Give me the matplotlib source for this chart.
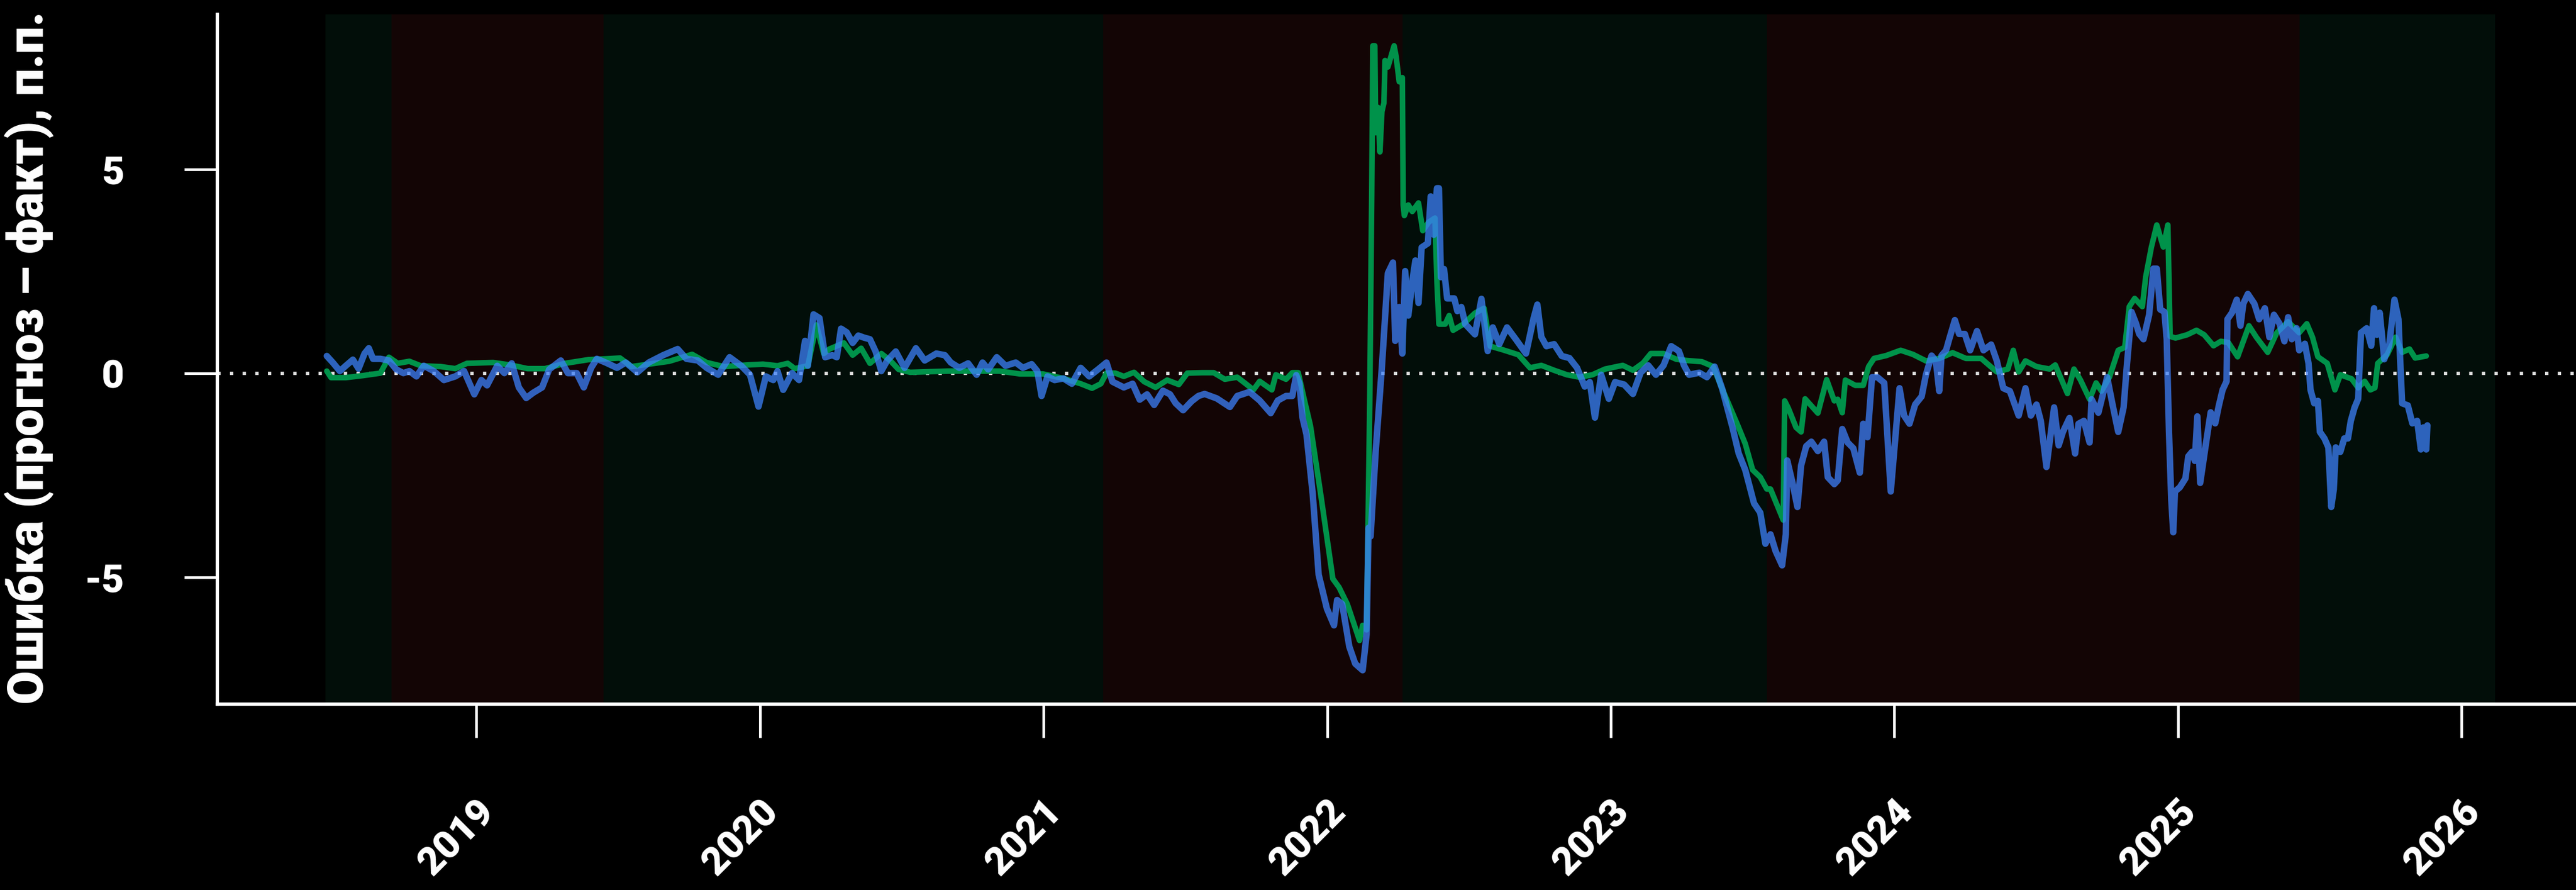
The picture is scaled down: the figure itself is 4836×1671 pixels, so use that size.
import numpy as np
import pandas as pd
import matplotlib
matplotlib.use("Agg")
import matplotlib.pyplot as plt

# ---------------------------------------------------------------
# Forecast error series (forecast minus actual), percentage points.
# Time is given in decimal years.
# ---------------------------------------------------------------
blue_t = [
    2018.473, 2018.494, 2018.519, 2018.540, 2018.565, 2018.585, 2018.606, 2018.621, 2018.636, 2018.662,
    2018.692, 2018.718, 2018.743, 2018.764, 2018.789, 2018.815, 2018.850, 2018.886, 2018.926, 2018.957,
    2018.993, 2019.018, 2019.038, 2019.074, 2019.099, 2019.125, 2019.150, 2019.176, 2019.201, 2019.232,
    2019.257, 2019.298, 2019.323, 2019.354, 2019.379, 2019.405, 2019.425, 2019.456, 2019.496, 2019.527,
    2019.568, 2019.608, 2019.659, 2019.710, 2019.741, 2019.781, 2019.812, 2019.853, 2019.893, 2019.934,
    2019.965, 2019.995, 2020.021, 2020.047, 2020.062, 2020.082, 2020.113, 2020.138, 2020.159, 2020.169,
    2020.189, 2020.210, 2020.230, 2020.255, 2020.271, 2020.286, 2020.306, 2020.327, 2020.347, 2020.367,
    2020.388, 2020.408, 2020.428, 2020.449, 2020.479, 2020.510, 2020.550, 2020.581, 2020.622, 2020.652,
    2020.673, 2020.703, 2020.734, 2020.764, 2020.785, 2020.805, 2020.835, 2020.866, 2020.902, 2020.927,
    2020.958, 2020.978, 2020.993, 2021.014, 2021.039, 2021.070, 2021.100, 2021.131, 2021.161, 2021.192,
    2021.222, 2021.243, 2021.283, 2021.314, 2021.339, 2021.365, 2021.390, 2021.421, 2021.446, 2021.466,
    2021.492, 2021.522, 2021.546, 2021.568, 2021.611, 2021.657, 2021.683, 2021.726, 2021.762, 2021.801,
    2021.826, 2021.855, 2021.877, 2021.891, 2021.902, 2021.913, 2021.927, 2021.949, 2021.970, 2021.999,
    2022.024, 2022.035, 2022.053, 2022.078, 2022.099, 2022.125, 2022.139, 2022.146, 2022.153, 2022.171,
    2022.193, 2022.214, 2022.232, 2022.240, 2022.254, 2022.265, 2022.275, 2022.286, 2022.300, 2022.311,
    2022.322, 2022.333, 2022.355, 2022.365, 2022.376, 2022.387, 2022.394, 2022.401, 2022.412, 2022.423,
    2022.448, 2022.459, 2022.473, 2022.487, 2022.521, 2022.544, 2022.566, 2022.584, 2022.607, 2022.634,
    2022.665, 2022.701, 2022.728, 2022.741, 2022.755, 2022.773, 2022.800, 2022.827, 2022.854, 2022.881,
    2022.908, 2022.926, 2022.944, 2022.966, 2022.993, 2023.015, 2023.047, 2023.078, 2023.105, 2023.132,
    2023.159, 2023.186, 2023.213, 2023.240, 2023.258, 2023.276, 2023.312, 2023.339, 2023.366, 2023.393,
    2023.429, 2023.451, 2023.474, 2023.505, 2023.527, 2023.545, 2023.563, 2023.581, 2023.604, 2023.617,
    2023.622, 2023.640, 2023.658, 2023.671, 2023.689, 2023.707, 2023.730, 2023.752, 2023.765, 2023.788,
    2023.800, 2023.816, 2023.835, 2023.855, 2023.878, 2023.890, 2023.905, 2023.921, 2023.940, 2023.964,
    2023.987, 2024.018, 2024.034, 2024.053, 2024.073, 2024.096, 2024.111, 2024.131, 2024.146, 2024.158,
    2024.166, 2024.182, 2024.193, 2024.213, 2024.228, 2024.248, 2024.267, 2024.291, 2024.314, 2024.341,
    2024.361, 2024.384, 2024.407, 2024.438, 2024.462, 2024.481, 2024.501, 2024.516, 2024.536, 2024.547,
    2024.563, 2024.579, 2024.594, 2024.617, 2024.637, 2024.649, 2024.668, 2024.688, 2024.695, 2024.719,
    2024.750, 2024.769, 2024.789, 2024.808, 2024.820, 2024.836, 2024.851, 2024.863, 2024.878, 2024.898,
    2024.913, 2024.925, 2024.937, 2024.952, 2024.960, 2024.968, 2024.976, 2024.983, 2024.989, 2025.006,
    2025.026, 2025.036, 2025.049, 2025.059, 2025.068, 2025.078, 2025.101, 2025.115, 2025.131, 2025.144,
    2025.157, 2025.171, 2025.174, 2025.190, 2025.207, 2025.220, 2025.230, 2025.246, 2025.269, 2025.286,
    2025.306, 2025.322, 2025.338, 2025.358, 2025.375, 2025.388, 2025.401, 2025.418, 2025.427, 2025.447,
    2025.460, 2025.467, 2025.480, 2025.493, 2025.500, 2025.516, 2025.530, 2025.540, 2025.549, 2025.556,
    2025.572, 2025.586, 2025.599, 2025.609, 2025.622, 2025.635, 2025.645, 2025.665, 2025.681, 2025.691,
    2025.701, 2025.711, 2025.727, 2025.744, 2025.763, 2025.777, 2025.783, 2025.790, 2025.810, 2025.826,
    2025.843, 2025.856, 2025.865, 2025.875, 2025.879,
]
blue_v = [
    0.43, 0.27, 0.06, 0.19, 0.34, 0.12, 0.49, 0.62, 0.36, 0.36,
    0.32, 0.10, 0.01, 0.06, -0.07, 0.19, 0.06, -0.16, -0.07, 0.06,
    -0.51, -0.16, -0.29, 0.19, 0.01, 0.25, -0.34, -0.60, -0.47, -0.34,
    0.10, 0.32, 0.01, 0.01, -0.34, 0.14, 0.36, 0.27, 0.14, 0.27,
    0.03, 0.27, 0.45, 0.60, 0.36, 0.32, 0.14, -0.03, 0.40, 0.19,
    -0.03, -0.81, -0.07, -0.16, 0.06, -0.40, 0.01, -0.16, 0.80, 0.19,
    1.45, 1.36, 0.40, 0.45, 0.40, 1.10, 1.01, 0.75, 0.93, 0.88,
    0.84, 0.54, 0.06, 0.32, 0.54, 0.14, 0.62, 0.32, 0.49, 0.45,
    0.27, 0.14, 0.25, -0.03, 0.27, 0.10, 0.40, 0.19, 0.27, 0.14,
    0.23, 0.06, -0.55, -0.07, -0.16, -0.12, -0.25, 0.14, -0.07, 0.10,
    0.27, -0.20, -0.34, -0.25, -0.64, -0.51, -0.77, -0.42, -0.51, -0.73,
    -0.90, -0.68, -0.55, -0.50, -0.61, -0.82, -0.55, -0.45, -0.66, -0.97,
    -0.66, -0.55, -0.55, -0.04, -0.24, -1.08, -1.49, -2.95, -4.93, -5.76,
    -6.17, -5.55, -5.65, -6.69, -7.11, -7.27, -6.39, -3.78, -3.99, -1.91,
    0.17, 2.46, 2.72, 0.80, 1.63, 0.49, 2.51, 1.42, 2.25, 2.77,
    1.73, 3.09, 3.19, 4.34, 3.40, 4.54, 4.54, 2.36, 2.56, 1.84,
    1.84, 1.53, 1.63, 1.21, 0.96, 1.83, 0.55, 1.13, 0.72, 1.13,
    0.84, 0.49, 1.36, 1.69, 0.90, 0.67, 0.72, 0.43, 0.38, 0.14,
    -0.32, -0.21, -1.08, -0.03, -0.62, -0.21, -0.27, -0.50, 0.02, 0.20,
    -0.03, 0.20, 0.67, 0.55, 0.20, -0.03, 0.02, -0.09, 0.17, -0.38,
    -1.32, -1.96, -2.36, -3.18, -3.41, -4.17, -3.94, -4.35, -4.70, -3.94,
    -2.13, -2.66, -3.27, -2.25, -1.78, -1.67, -1.90, -1.67, -2.54, -2.71,
    -2.62, -1.36, -1.69, -1.83, -2.43, -1.23, -1.56, -0.09, -0.09, -0.23,
    -2.89, -0.36, -1.03, -1.23, -0.76, -0.56, -0.03, 0.44, 0.31, -0.43,
    0.44, 0.57, 0.84, 1.31, 0.97, 0.97, 0.57, 1.04, 0.57, 0.71,
    0.31, -0.36, -0.43, -1.03, -0.36, -1.03, -0.76, -1.16, -2.29, -1.69,
    -0.83, -1.76, -1.43, -1.09, -1.96, -1.23, -1.16, -1.69, -0.63, -0.96,
    -0.09, -0.76, -1.43, -0.83, 0.24, 1.51, 1.24, 0.97, 0.84, 1.44,
    2.57, 2.57, 1.57, 1.51, 0.84, -1.43, -3.09, -3.89, -2.89, -2.79,
    -2.57, -2.03, -1.92, -2.14, -1.05, -2.68, -1.59, -0.95, -1.22, -0.78,
    -0.40, -0.19, 1.33, 1.49, 1.81, 1.17, 1.71, 1.95, 1.71, 1.33,
    1.60, 0.89, 1.44, 1.22, 0.79, 1.38, 0.84, 1.11, 0.57, 0.73,
    0.25, -0.40, -0.73, -0.67, -1.43, -1.59, -1.81, -3.27, -2.84, -1.81,
    -1.92, -1.59, -1.59, -1.16, -0.84, -0.62, 1.00, 1.11, 0.68, 1.60,
    0.95, 1.49, 0.35, 0.68, 1.81, 1.33, 0.35, -0.73, -0.78, -1.22,
    -1.16, -1.86, -1.32, -1.86, -1.27,
]

green_t = [
    2018.473, 2018.488, 2018.540, 2018.601, 2018.662, 2018.692, 2018.723, 2018.764, 2018.804, 2018.875,
    2018.926, 2018.967, 2019.059, 2019.120, 2019.181, 2019.242, 2019.313, 2019.395, 2019.456, 2019.507,
    2019.547, 2019.608, 2019.680, 2019.761, 2019.812, 2019.873, 2019.955, 2020.011, 2020.062, 2020.098,
    2020.123, 2020.169, 2020.199, 2020.225, 2020.245, 2020.276, 2020.296, 2020.327, 2020.357, 2020.388,
    2020.428, 2020.459, 2020.489, 2020.530, 2020.662, 2020.764, 2020.845, 2020.917, 2020.998, 2021.070,
    2021.131, 2021.171, 2021.202, 2021.222, 2021.253, 2021.283, 2021.319, 2021.355, 2021.395, 2021.436,
    2021.477, 2021.507, 2021.560, 2021.600, 2021.639, 2021.683, 2021.711, 2021.740, 2021.762, 2021.805,
    2021.819, 2021.855, 2021.877, 2021.898, 2021.920, 2021.941, 2021.977, 2022.020, 2022.042, 2022.071,
    2022.114, 2022.125, 2022.139, 2022.150, 2022.157, 2022.161, 2022.168, 2022.171, 2022.179, 2022.186,
    2022.193, 2022.200, 2022.204, 2022.214, 2022.225, 2022.236, 2022.243, 2022.254, 2022.265, 2022.268,
    2022.272, 2022.286, 2022.300, 2022.322, 2022.337, 2022.358, 2022.380, 2022.387, 2022.394, 2022.416,
    2022.430, 2022.444, 2022.480, 2022.521, 2022.553, 2022.575, 2022.620, 2022.674, 2022.715, 2022.755,
    2022.800, 2022.845, 2022.890, 2022.935, 2022.980, 2023.042, 2023.078, 2023.114, 2023.141, 2023.186,
    2023.231, 2023.267, 2023.321, 2023.361, 2023.393, 2023.447, 2023.474, 2023.500, 2023.527, 2023.550,
    2023.563, 2023.608, 2023.613, 2023.626, 2023.653, 2023.671, 2023.685, 2023.707, 2023.730, 2023.761,
    2023.788, 2023.800, 2023.816, 2023.827, 2023.862, 2023.890, 2023.909, 2023.928, 2023.971, 2024.022,
    2024.065, 2024.111, 2024.158, 2024.205, 2024.252, 2024.306, 2024.361, 2024.400, 2024.419, 2024.438,
    2024.462, 2024.501, 2024.547, 2024.567, 2024.610, 2024.633, 2024.656, 2024.688, 2024.711, 2024.730,
    2024.758, 2024.789, 2024.812, 2024.828, 2024.847, 2024.874, 2024.886, 2024.906, 2024.925, 2024.948,
    2024.964, 2024.972, 2024.991, 2025.032, 2025.065, 2025.092, 2025.125, 2025.151, 2025.177, 2025.210,
    2025.250, 2025.276, 2025.316, 2025.348, 2025.388, 2025.427, 2025.454, 2025.474, 2025.493, 2025.526,
    2025.553, 2025.572, 2025.612, 2025.635, 2025.658, 2025.678, 2025.694, 2025.704, 2025.737, 2025.767,
    2025.790, 2025.816, 2025.836, 2025.875,
]
green_v = [
    0.06, -0.10, -0.10, -0.05, 0.01, 0.40, 0.25, 0.30, 0.19, 0.17,
    0.12, 0.25, 0.27, 0.21, 0.12, 0.12, 0.25, 0.34, 0.36, 0.38,
    0.17, 0.23, 0.30, 0.47, 0.27, 0.17, 0.21, 0.23, 0.19, 0.25,
    0.12, 0.19, 1.19, 0.49, 0.60, 0.69, 0.75, 0.45, 0.62, 0.25,
    0.49, 0.32, 0.10, 0.03, 0.06, 0.06, 0.06, -0.01, -0.01, -0.12,
    -0.25, -0.36, -0.25, 0.01, 0.01, -0.07, 0.03, -0.20, -0.34, -0.16,
    -0.27, 0.01, 0.02, 0.02, -0.14, -0.09, -0.24, -0.40, -0.19, -0.40,
    -0.03, -0.14, 0.02, 0.02, -0.66, -1.28, -2.95, -5.03, -5.24, -5.65,
    -6.54, -6.17, -6.28, -0.76, 4.34, 8.03, 8.03, 5.90, 6.52, 5.43,
    6.42, 6.63, 7.67, 7.51, 7.77, 8.03, 7.77, 7.15, 7.25, 4.13,
    3.87, 4.13, 3.97, 4.18, 3.50, 3.71, 3.81, 2.25, 1.21, 1.21,
    1.42, 1.06, 1.21, 1.48, 1.60, 0.67, 0.58, 0.46, 0.14, 0.20,
    0.08, -0.03, -0.09, -0.03, 0.11, 0.20, 0.08, 0.26, 0.49, 0.49,
    0.35, 0.32, 0.29, 0.17, -0.38, -1.26, -1.72, -2.36, -2.54, -2.83,
    -2.83, -3.59, -0.67, -0.85, -1.32, -1.43, -0.62, -0.79, -0.97, -0.15,
    -0.67, -0.63, -0.96, -0.16, -0.29, -0.29, 0.17, 0.37, 0.44, 0.57,
    0.47, 0.31, 0.37, 0.51, 0.37, 0.37, 0.04, 0.11, 0.57, 0.04,
    0.31, 0.17, 0.11, 0.21, -0.49, 0.11, -0.16, -0.63, -0.23, -0.43,
    -0.09, 0.57, 0.64, 1.64, 1.84, 1.64, 2.37, 3.10, 3.64, 3.10,
    3.64, 0.91, 0.87, 0.95, 1.06, 0.95, 0.68, 0.79, 0.76, 0.41,
    1.17, 0.89, 0.52, 1.00, 1.27, 1.00, 1.22, 0.89, 0.41, 0.25,
    -0.40, -0.03, -0.13, -0.35, -0.19, -0.40, -0.35, 0.25, 0.46, 0.89,
    0.52, 0.60, 0.38, 0.43,
]

# Policy-cycle phases: boundaries (dates) and type of each phase
phase_edges = ["2018-06-21", "2018-09-14", "2019-06-14", "2021-03-19",
               "2022-04-08", "2023-07-21", "2025-06-06", "2026-02-13"]
phase_kind = ["easing", "tightening", "easing", "tightening",
              "easing", "tightening", "easing"]

year_ticks = [2019, 2020, 2021, 2022, 2023, 2024, 2025, 2026]
y_ticks = [5, 0, -5]
y_label = "Ошибка (прогноз – факт), п.п."


def decimal_year(date_str):
    ts = pd.Timestamp(date_str)
    start = pd.Timestamp(year=ts.year, month=1, day=1)
    end = pd.Timestamp(year=ts.year + 1, month=1, day=1)
    return ts.year + (ts - start) / (end - start)


FONT = ["Roboto", "Noto Sans", "DejaVu Sans"]
plt.rcParams["font.family"] = FONT

W, H, DPI = 4836, 1671, 300
fig = plt.figure(figsize=(W / DPI, H / DPI), dpi=DPI, facecolor="black")
ax = fig.add_axes([408 / W, 1 - 1322 / H, 1 - 408 / W, (1322 - 27) / H])
ax.set_facecolor("black")

phase_colors = {"easing": "#020e09", "tightening": "#130505"}
edges = [decimal_year(d) for d in phase_edges]
for x0, x1, kind in zip(edges[:-1], edges[1:], phase_kind):
    ax.axvspan(x0, x1, color=phase_colors[kind], lw=0, zorder=0)

ax.axhline(0, color="#dedede", lw=1.5, dashes=(1, 2.8), zorder=1)

ax.plot(green_t, green_v, color="#00924a", lw=2.5, zorder=2,
        solid_joinstyle="round", solid_capstyle="round")
ax.plot(blue_t, blue_v, color="#3c80fa", alpha=0.75, lw=2.9, zorder=3,
        solid_joinstyle="round", solid_capstyle="round")

ax.set_xlim(2018.087, 2026.403)
ax.set_ylim(-8.1, 8.8)

for side in ("top", "right"):
    ax.spines[side].set_visible(False)
for side in ("left", "bottom"):
    ax.spines[side].set_color("white")
    ax.spines[side].set_linewidth(1.5)

ax.set_yticks(y_ticks)
ax.set_yticklabels([str(v) for v in y_ticks])
ax.set_xticks(year_ticks)
ax.set_xticklabels([str(y) for y in year_ticks], rotation=45,
                   ha="right", va="top", rotation_mode="anchor")
ax.tick_params(axis="both", colors="white", length=15, width=1.2,
               direction="out", labelsize=17.5)
ax.tick_params(axis="y", pad=27)
ax.tick_params(axis="x", pad=25)
for lab in ax.get_xticklabels() + ax.get_yticklabels():
    lab.set_fontweight("black")
    lab.set_color("white")

fig.text(55 / W, 1 - 672 / H, y_label, rotation=90, ha="center", va="center",
         color="white", fontsize=22, fontweight="black")

fig.savefig("out.png", dpi=DPI, facecolor="black")
